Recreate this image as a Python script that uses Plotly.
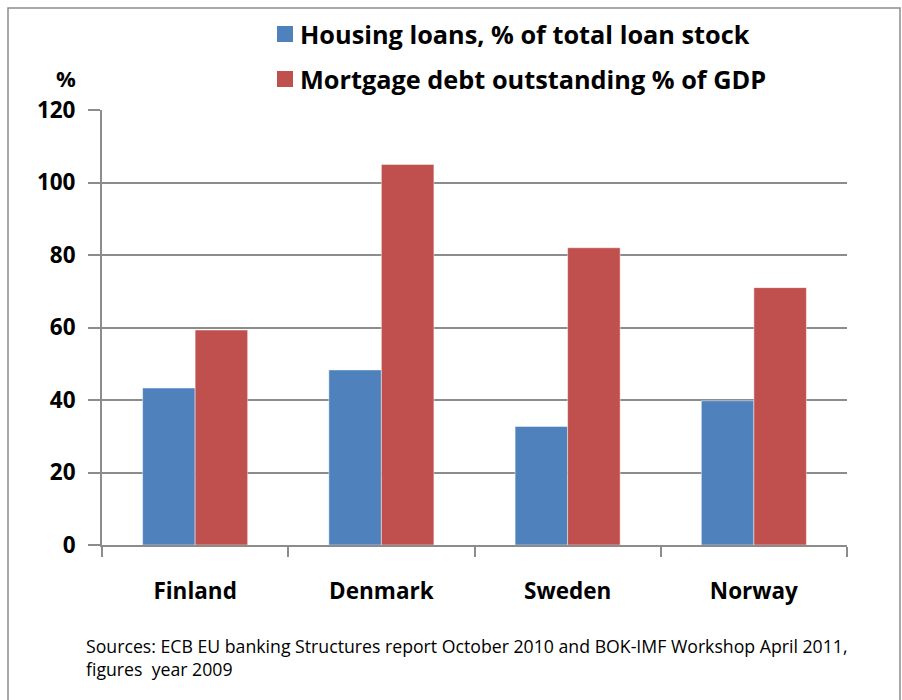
import plotly.graph_objects as go

# Data
countries = ["Finland", "Denmark", "Sweden", "Norway"]
series_names = ["Housing loans, % of total loan stock", "Mortgage debt outstanding % of GDP"]
housing_loans = [43.3, 48.3, 32.7, 39.8]
mortgage_debt = [59.3, 105.0, 82.0, 71.0]
y_ticks = [0, 20, 40, 60, 80, 100, 120]
source_note = ("Sources: ECB EU banking Structures report October 2010 and BOK-IMF Workshop April 2011,"
               "<br>figures  year 2009")

colors = ["#4F81BD", "#C0504D"]
FONT = "'Open Sans', Lato, sans-serif"

W, H = 902, 700
L, R, T, B = 102, 55, 110, 155


def px_x(p):
    return (p - L) / (W - L - R)


def px_y(p):
    return 1 - (p - T) / (H - T - B)


fig = go.Figure()
for name, vals, col in zip(series_names, [housing_loans, mortgage_debt], colors):
    fig.add_trace(go.Bar(
        x=countries, y=vals, name=name, marker_color=col,
        marker_line=dict(color="rgba(255,255,255,0.45)", width=1),
        showlegend=False,
    ))

shapes = [
    # outer frame
    dict(type="rect", xref="paper", yref="paper",
         x0=px_x(8), x1=px_x(900), y0=px_y(8), y1=px_y(712),
         line=dict(color="#8c8c8c", width=1.5), layer="below"),
]
annotations = []

# legend swatches and labels
legend_rows = [34, 79]
for name, col, yc in zip(series_names, colors, legend_rows):
    shapes.append(dict(type="rect", xref="paper", yref="paper",
                       x0=px_x(277), x1=px_x(293), y0=px_y(yc - 8), y1=px_y(yc + 8),
                       fillcolor=col, line=dict(width=0)))
    annotations.append(dict(xref="paper", yref="paper", x=px_x(298), y=px_y(yc),
                            xanchor="left", yanchor="middle", text=f"<b>{name}</b>",
                            showarrow=False, font=dict(family=FONT, size=25.3, color="#000")))

# axis unit label
annotations.append(dict(xref="paper", yref="paper", x=px_x(66), y=px_y(78),
                        xanchor="center", yanchor="middle", text="<b>%</b>",
                        showarrow=False, font=dict(family=FONT, size=22, color="#000")))

# source note
annotations.append(dict(xref="paper", yref="paper", x=px_x(84), y=px_y(632),
                        xanchor="left", yanchor="top", align="left", text=source_note,
                        showarrow=False, font=dict(family=FONT, size=17.7, color="#000")))

fig.update_layout(
    width=W, height=H,
    margin=dict(l=L, r=R, t=T, b=B),
    paper_bgcolor="white", plot_bgcolor="white",
    barmode="group", bargap=0.436, bargroupgap=0,
    shapes=shapes, annotations=annotations,
    font=dict(family=FONT, color="#000"),
)
fig.update_yaxes(
    range=[0, 120], tickvals=y_ticks,
    showgrid=True, gridcolor="#8c8c8c", gridwidth=2,
    showline=True, linecolor="#8c8c8c", linewidth=2,
    ticks="outside", ticklen=12, tickcolor="#8c8c8c", tickwidth=2,
    ticklabelstandoff=8,
    tickfont=dict(family=FONT, size=22.5, color="#000", weight="bold"),
    zeroline=False,
)
fig.update_xaxes(
    showline=True, linecolor="#8c8c8c", linewidth=2,
    ticks="outside", tickson="boundaries", ticklen=10, tickcolor="#8c8c8c", tickwidth=2,
    ticklabelstandoff=25,
    tickfont=dict(family=FONT, size=22.5, color="#000", weight="bold"),
)

fig.write_html("out.html")
